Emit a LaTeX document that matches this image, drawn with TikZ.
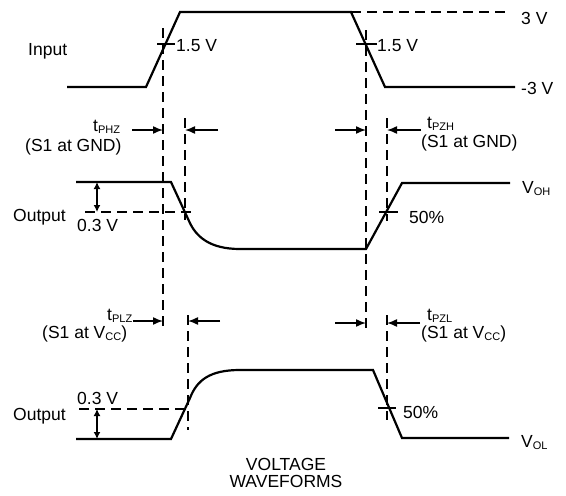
\documentclass[tikz,border=0pt]{standalone}
\usepackage{fontspec}
\setmainfont{Liberation Sans}
\usetikzlibrary{arrows.meta}
\newcommand{\lowsub}[1]{\raisebox{-2.5pt}{\fontsize{11}{11}\selectfont #1}}

\begin{document}
\begin{tikzpicture}[x=1pt,y=-1pt,
    wave/.style={line width=2.2pt},
    guide/.style={line width=1.6pt,dash pattern=on 10pt off 6pt},
    tick/.style={line width=1.5pt},
    timing/.style={line width=1.5pt,-{Latex[length=10pt,width=8pt]}},
    span/.style={line width=1.5pt,{Latex[length=7pt,width=7pt]}-{Latex[length=7pt,width=7pt]}},
    lbl/.style={inner sep=0pt,anchor=base west,font=\fontsize{17.5}{20}\selectfont}]
    \useasboundingbox (0,0) rectangle (566,496);

    \draw[wave] (67,87) -- (146,87) -- (180,12) -- (351,12) -- (385,87) -- (515,87);
    \draw[wave] (76,182) -- (171,182) -- (189,221) .. controls (196,237) and (210,249) .. (240,249)
        -- (366,249) -- (402,183) -- (510,183);
    \draw[wave] (76,439) -- (171,439) -- (190,398) .. controls (197,380) and (210,370) .. (240,370)
        -- (373,370) -- (402,438) -- (509,438);

    \draw[guide] (351,12) -- (510,12);
    \draw[guide] (163,28) -- (163,327);
    \draw[guide] (366,30) -- (366,328);
    \draw[guide] (185,118) -- (185,220);
    \draw[guide] (188,315) -- (188,430);
    \draw[guide] (387,118) -- (387,221);
    \draw[guide] (387,315) -- (387,420);
    \draw[guide] (85,212) -- (197,212);
    \draw[guide] (79,409) -- (191,409);

    \draw[tick] (157,44) -- (175,44);
    \draw[tick] (356,44) -- (377,44);
    \draw[tick] (379,212) -- (398,212);
    \draw[tick] (378,408) -- (396,408);

    \draw[span] (97,182) -- (97,212);
    \draw[span] (97,409) -- (97,439);

    \draw[timing] (132,130) -- (163,130);
    \draw[timing] (218,130) -- (185,130);
    \draw[timing] (335,130) -- (366,130);
    \draw[timing] (421,130) -- (387,130);
    \draw[timing] (133,321) -- (163,321);
    \draw[timing] (220,321) -- (188,321);
    \draw[timing] (335,323) -- (366,323);
    \draw[timing] (420,323) -- (387,323);

    \node[lbl] (input)  at (28,55)   {Input};
    \node[lbl] (mid1)   at (176,51)  {1.5 V};
    \node[lbl] (mid2)   at (377,51)  {1.5 V};
    \node[lbl] (high)   at (521,24)  {3 V};
    \node[lbl] (low)    at (521,94)  {-3 V};
    \node[lbl] (phz)    at (93,131)  {t\lowsub{PHZ}};
    \node[lbl] (phzs)   at (25,151)  {(S1 at GND)};
    \node[lbl] (pzh)    at (427,128) {t\lowsub{PZH}};
    \node[lbl] (pzhs)   at (421,147) {(S1 at GND)};
    \node[lbl] (outa)   at (13,221)  {Output};
    \node[lbl] (offa)   at (77,231)  {0.3 V};
    \node[lbl] (halfa)  at (409,223) {50\%};
    \node[lbl] (voh)    at (522,193) {V\lowsub{OH}};
    \node[lbl] (plz)    at (107,320) {t\lowsub{PLZ}};
    \node[lbl] (plzs)   at (42,338)  {(S1 at V\lowsub{CC})};
    \node[lbl] (pzl)    at (427,320) {t\lowsub{PZL}};
    \node[lbl] (pzls)   at (421,338) {(S1 at V\lowsub{CC})};
    \node[lbl] (outb)   at (13,420)  {Output};
    \node[lbl] (offb)   at (77,404)  {0.3 V};
    \node[lbl] (halfb)  at (403,418) {50\%};
    \node[lbl] (vol)    at (521,447) {V\lowsub{OL}};
    \node[lbl,anchor=base] (title) at (286,470) {VOLTAGE};
    \node[lbl,anchor=base] (wave)  at (286,487) {WAVEFORMS};
\end{tikzpicture}
\end{document}
